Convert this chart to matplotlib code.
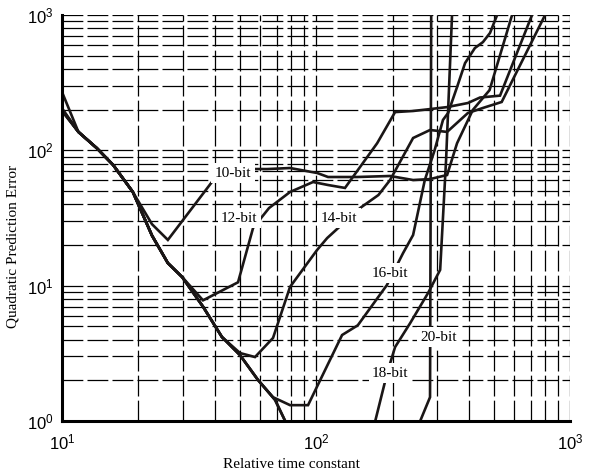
import numpy as np
import matplotlib
matplotlib.use('Agg')
import matplotlib.pyplot as plt

plt.rcParams['lines.scale_dashes'] = False

# values (x: relative time constant, y: error)
x_10 = [10, 11.6, 13.7, 15.9, 19.0, 22.6, 26.1, 38.9, 42.6, 64.1, 79.0, 101, 111.5, 145, 195.6,
        241, 281, 328, 359, 414, 482, 591]
y_10 = [270, 137, 104, 78, 49.3, 28.5, 21.8, 58.4, 73, 72.8, 74.1, 68.1, 63.6, 63.6, 64.7,
        60.4, 61.4, 65.8, 113, 199, 279, 1000]

x_12 = [10, 11.6, 13.7, 15.9, 19.0, 22.6, 26.1, 29.7, 35.9, 49.3, 56.5, 65.3, 79.0, 97.3,
        111.5, 130, 149, 174, 204.7, 241, 281, 328, 396, 442, 530, 708]
y_12 = [205, 137, 104, 78, 49.3, 23.5, 14.7, 11.6, 7.8, 10.6, 26.7, 37.5, 49.3, 58.4,
        55.5, 52.8, 75.4, 113, 192, 195.6, 202, 209, 224, 246, 254, 1000]

x_14 = [10, 11.6, 13.7, 15.9, 19.0, 22.6, 26.1, 29.7, 35.9, 42.6, 50.2, 57.5, 67.7, 79.0,
        101, 110.6, 149, 176, 195.6, 241, 281, 328, 396, 454, 538, 797]
y_14 = [200, 137, 104, 78, 49.3, 23.5, 14.7, 11.6, 7.0, 4.18, 3.18, 2.97, 4.11, 9.8,
        18.4, 22.5, 37.5, 46.8, 60.4, 123.5, 141.5, 137, 189, 206, 228, 1000]

x_16 = [10, 11.6, 13.7, 15.9, 19.0, 22.6, 26.1, 29.7, 35.9, 42.6, 50.2, 59.1, 67.7, 79.0,
        93.0, 126.6, 146, 190, 220, 241, 268, 293, 316, 331, 359, 386, 422, 454, 484, 516]
y_16 = [200, 137, 104, 78, 49.3, 23.5, 14.7, 11.6, 7.0, 4.18, 3.07, 2.01, 1.50, 1.31,
        1.31, 4.32, 5.1, 10.1, 17.4, 23.7, 60.4, 100.6, 168, 189, 294, 442, 571, 632, 738, 1000]

x_18 = [10, 11.6, 13.7, 15.9, 19.0, 22.6, 26.1, 29.7, 35.9, 42.6, 50.2, 59.1, 69.0, 75.6,
        85, 160, 171, 190.5, 204.7, 234.8, 276, 308, 325, 343]
y_18 = [195, 137, 104, 78, 49.3, 23.5, 14.7, 11.6, 7.0, 4.18, 3.07, 2.01, 1.43, 1.0,
        0.75, 0.7, 1.0, 2.26, 3.52, 5.3, 8.83, 13.1, 84.9, 1000]

x_20 = [10, 11.6, 13.7, 15.9, 19.0, 22.6, 26.1, 29.7, 35.9, 42.6, 50.2, 59.1, 69.0, 75.6,
        85, 245, 257, 281, 284]
y_20 = [198, 137, 104, 78, 49.3, 23.5, 14.7, 11.6, 7.0, 4.18, 3.07, 2.01, 1.43, 1.0,
        0.75, 0.75, 1.0, 1.5, 1000]

curves = [(x_10, y_10), (x_12, y_12), (x_14, y_14), (x_16, y_16), (x_18, y_18), (x_20, y_20)]

labels = ['10-bit', '12-bit', '14-bit', '16-bit', '18-bit', '20-bit']
label_x = [47.1, 49.9, 123, 196, 196, 303]
label_y = [68, 31.6, 31.6, 12.4, 2.26, 4.17]

fig = plt.figure(figsize=(5.97, 4.72), dpi=100)
ax = fig.add_axes([0.1039, 0.108, 0.851, 0.860])

ax.set_xscale('log')
ax.set_yscale('log')
ax.set_xlim(10, 1000)
ax.set_ylim(1, 1000)

ax.grid(True, which='both', color='black', linewidth=0.9, linestyle=(0, (15, 3)))
ax.set_axisbelow(True)

for xs, ys in curves:
    ax.plot(xs, ys, color='#1a1616', linewidth=1.9, solid_joinstyle='miter', zorder=3)

for txt, lx, ly in zip(labels, label_x, label_y):
    ax.text(lx, ly, txt, ha='center', va='center', fontsize=11, family='Liberation Serif',
            bbox=dict(facecolor='white', edgecolor='none', pad=2.5), zorder=5)

for side in ['top', 'right']:
    ax.spines[side].set_visible(False)
for side in ['left', 'bottom']:
    ax.spines[side].set_linewidth(2.2)
    ax.spines[side].set_zorder(6)

ax.tick_params(which='both', length=0)
ax.tick_params(axis='x', pad=8)
ax.tick_params(axis='y', pad=6)
for lab in ax.get_xticklabels() + ax.get_yticklabels():
    lab.set_fontfamily('Liberation Sans')
    lab.set_fontsize(12)

ax.set_xlabel('Relative time constant', fontsize=11, family='Liberation Serif')
ax.set_ylabel('Quadratic Prediction Error', fontsize=11, family='Liberation Serif')
ax.xaxis.set_label_coords(0.451, -0.091)
ax.yaxis.set_label_coords(-0.083, 0.431)

fig.savefig('out.png', dpi=100)
